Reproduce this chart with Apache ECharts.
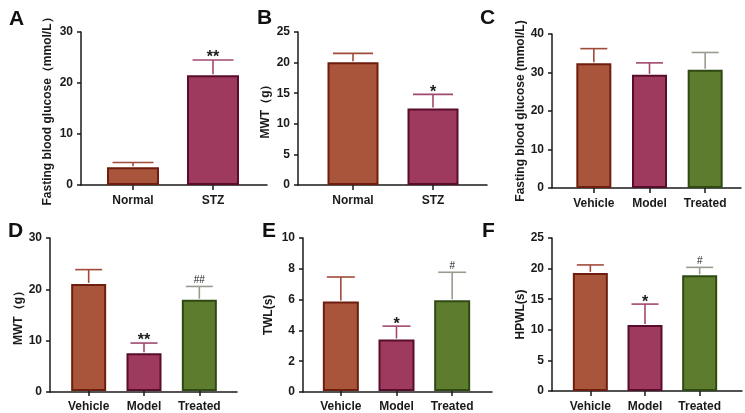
<!DOCTYPE html>
<html><head><meta charset="utf-8">
<script src="https://cdn.jsdelivr.net/npm/echarts@6/dist/echarts.min.js"></script>
<style>html,body{margin:0;padding:0;background:#fff}#c{width:745px;height:413px}</style>
</head><body><div id="c"></div>
<script>
// ---- data ----
const catsAB = ['Normal', 'STZ'];
const cats3 = ['Vehicle', 'Model', 'Treated'];

const valsA = [3.5, 21.5];
const errA = [0.9, 3.0];
const sigA = ['', '**'];

const valsB = [20.05, 12.5];
const errB = [1.45, 2.3];
const sigB = ['', '*'];

const valsC = [32.4, 29.4, 30.7];
const errC = [3.8, 3.1, 4.5];
const sigC = ['', '', ''];

const valsD = [21.0, 7.4, 17.9];
const errD = [2.8, 2.0, 2.6];
const sigD = ['', '**', '##'];

const valsE = [5.85, 3.37, 5.93];
const errE = [1.6, 0.87, 1.83];
const sigE = ['', '*', '#'];

const valsF = [19.3, 10.8, 18.9];
const errF = [1.3, 3.4, 1.3];
const sigF = ['', '*', '#'];

const yMax = [30, 25, 40, 30, 10, 25];
const yInterval = [10, 5, 10, 10, 2, 5];
const yNames = ['Fasting blood glucose（mmol/L）', 'MWT（g）', 'Fasting blood glucose (mmol/L)', 'MWT（g）', 'TWL(s)', 'HPWL(s)'];
const letters = ['A', 'B', 'C', 'D', 'E', 'F'];

// ---- styles / layout ----
const fills = ['#A8553C', '#9E3A5E', '#5E7C2E'];
const borders = ['#6E1E0E', '#5A0C2C', '#2E4A12'];
const errColors = ['#A04A3A', '#A0486E', '#9A9A8E'];
const FONT = 'Arial, "Liberation Sans", sans-serif';

const layout = [
  {yX: 81, top: 32, bottom: 185, end: 267, p0: 93, p1: 253, bw: 52, gap: 27, lx: 4, ly: 4},
  {yX: 298, top: 32, bottom: 185, end: 487, p0: 313, p1: 473, bw: 51, gap: 26, lx: 252, ly: 3},
  {yX: 552, top: 34, bottom: 188, end: 741, p0: 566, p1: 733, bw: 35, gap: 20, lx: 475, ly: 3},
  {yX: 50, top: 238, bottom: 392, end: 237, p0: 61, p1: 227, bw: 35, gap: 25, lx: 3, ly: 216},
  {yX: 303, top: 238, bottom: 392, end: 492, p0: 313, p1: 480, bw: 36, gap: 28, lx: 257, ly: 216},
  {yX: 552, top: 238, bottom: 391, end: 742, p0: 563, p1: 727, bw: 35, gap: 24, lx: 477, ly: 216}
];

const panels = [
  {cats: catsAB, vals: valsA, errs: errA, sigs: sigA},
  {cats: catsAB, vals: valsB, errs: errB, sigs: sigB},
  {cats: cats3, vals: valsC, errs: errC, sigs: sigC},
  {cats: cats3, vals: valsD, errs: errD, sigs: sigD},
  {cats: cats3, vals: valsE, errs: errE, sigs: sigE},
  {cats: cats3, vals: valsF, errs: errF, sigs: sigF}
];

const grid = [], xAxis = [], yAxis = [], series = [], title = [];
const axisCol = '#1a1a1a';

panels.forEach((p, i) => {
  const L = layout[i];
  const h = L.bottom - L.top;
  grid.push({left: L.yX, top: L.top, width: L.end - L.yX, height: h});
  grid.push({left: L.p0, top: L.top, width: L.p1 - L.p0, height: h});
  const gf = 2 * i, gp = 2 * i + 1;
  xAxis.push({gridIndex: gf, type: 'value', min: 0, max: 1,
    axisLine: {show: true, lineStyle: {color: axisCol, width: 1.5}},
    axisTick: {show: false}, axisLabel: {show: false}, splitLine: {show: false}});
  yAxis.push({gridIndex: gf, type: 'value', min: 0, max: yMax[i], interval: yInterval[i],
    name: yNames[i], nameLocation: 'middle', nameGap: L.gap, nameRotate: 90,
    nameTextStyle: {fontFamily: FONT, fontWeight: 'bold', fontSize: 12, color: '#1a1a1a'},
    axisLine: {show: true, lineStyle: {color: axisCol, width: 1.5}},
    axisTick: {show: true, length: 4, lineStyle: {color: axisCol, width: 1.5}},
    axisLabel: {margin: 8, fontFamily: FONT, fontWeight: 'bold', fontSize: 12, color: '#1a1a1a'},
    splitLine: {show: false}});
  xAxis.push({gridIndex: gp, type: 'category', data: p.cats,
    axisLine: {show: false},
    axisTick: {show: true, alignWithLabel: true, length: 5, lineStyle: {color: axisCol, width: 1.5}},
    axisLabel: {interval: 0, margin: 10, fontFamily: FONT, fontWeight: 'bold', fontSize: 12, color: '#1a1a1a'}});
  yAxis.push({gridIndex: gp, type: 'value', min: 0, max: yMax[i], show: false});

  series.push({type: 'bar', xAxisIndex: 2 * i + 1, yAxisIndex: 2 * i + 1, barWidth: L.bw,
    silent: true, animation: false,
    data: p.vals.map((v, k) => ({value: v, itemStyle: {color: fills[k], borderColor: borders[k], borderWidth: 2}}))});

  const capW = Math.round(L.bw * 0.78);
  series.push({type: 'custom', xAxisIndex: 2 * i + 1, yAxisIndex: 2 * i + 1, animation: false, silent: true, z: 1,
    data: p.vals.map((v, k) => [k, v, p.errs[k]]),
    renderItem: function (params, api) {
      const k = api.value(0);
      const v = api.value(1), e = api.value(2);
      const sig = p.sigs[k];
      const b = api.coord([k, v]);
      const t = api.coord([k, v + e]);
      const col = errColors[k];
      const ch = [
        {type: 'line', shape: {x1: b[0], y1: b[1] - 1, x2: t[0], y2: t[1]}, style: {stroke: col, lineWidth: 1.6}},
        {type: 'line', shape: {x1: t[0] - capW / 2, y1: t[1], x2: t[0] + capW / 2, y2: t[1]}, style: {stroke: col, lineWidth: 1.6}}
      ];
      if (sig) {
        const isHash = sig.indexOf('#') >= 0;
        ch.push({type: 'text', style: {text: sig, x: t[0], y: isHash ? t[1] - 6 : t[1] - 2,
          align: 'center', verticalAlign: 'middle',
          fontFamily: FONT, fontWeight: isHash ? 'normal' : 'bold', fontSize: isHash ? 10 : 16, fill: '#1a1a1a'}});
      }
      return {type: 'group', children: ch};
    }});

  title.push({text: letters[i], left: L.lx, top: L.ly,
    textStyle: {fontFamily: FONT, fontWeight: 'bold', fontSize: 21, color: '#111'}});
});

const chart = echarts.init(document.getElementById('c'), null, {renderer: 'canvas'});
chart.setOption({backgroundColor: '#fff', animation: false, title, grid, xAxis, yAxis, series});
</script>
</body></html>
